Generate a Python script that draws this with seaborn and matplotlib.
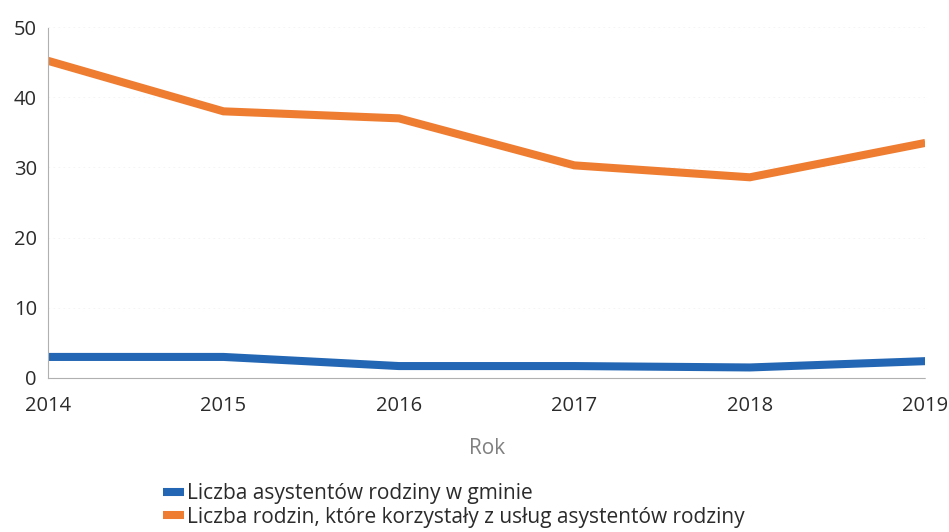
import matplotlib
matplotlib.use("Agg")
import matplotlib.pyplot as plt
import seaborn as sns
import pandas as pd

years = [2014, 2015, 2016, 2017, 2018, 2019]
asystenci = [3.0, 3.0, 1.7, 1.7, 1.5, 2.4]
rodziny = [45.2, 38.0, 37.0, 30.3, 28.6, 33.5]
series_names = [
    "Liczba asystentów rodziny w gminie",
    "Liczba rodzin, które korzystały z usług asystentów rodziny",
]
colors = ["#2366b3", "#ee7d32"]
y_ticks = [0, 10, 20, 30, 40, 50]

df = pd.DataFrame({
    "Rok": years * 2,
    "Wartość": asystenci + rodziny,
    "Seria": [series_names[0]] * len(years) + [series_names[1]] * len(years),
})

sns.set_theme(style="white")
plt.rcParams["font.family"] = ["Open Sans", "DejaVu Sans"]

fig = plt.figure(figsize=(9.49, 5.32), dpi=100)
ax = fig.add_axes([0.0506, 0.2895, 0.9244, 0.6595])

sns.lineplot(data=df, x="Rok", y="Wartość", hue="Seria",
             palette=dict(zip(series_names, colors)), linewidth=5.8,
             ax=ax, solid_joinstyle="miter", solid_capstyle="butt")

ax.set_xlim(years[0], years[-1])
ax.set_ylim(0, 50)
ax.set_xticks(years)
ax.set_xticklabels([str(y) for y in years])
ax.set_yticks(y_ticks)
ax.tick_params(axis="both", length=0, labelsize=14.5, labelcolor="#2b2b2b")
ax.tick_params(axis="y", pad=8)
ax.tick_params(axis="x", pad=13)
ax.set_ylabel("")
ax.set_xlabel("Rok", fontsize=15, color="#808080", labelpad=16)

for side in ["top", "right"]:
    ax.spines[side].set_visible(False)
for side in ["left", "bottom"]:
    ax.spines[side].set_color("#b0b0b0")
    ax.spines[side].set_linestyle((0, (1, 1)))
    ax.spines[side].set_linewidth(0.8)

ax.yaxis.grid(True, color="#f3f3f3", linestyle=(0, (2, 4)), linewidth=0.6)

handles, labels = ax.get_legend_handles_labels()
ax.get_legend().remove()
for h in handles:
    h.set_linewidth(5.8)
    h.set_solid_capstyle("butt")
fig.legend(handles, labels, loc="center", bbox_to_anchor=(0.478, 0.05),
           ncol=1, frameon=False, fontsize=15, handlelength=1.0,
           handletextpad=0.15, labelspacing=0.12, labelcolor="#2b2b2b",
           alignment="left")

fig.savefig("out.png", dpi=100)
